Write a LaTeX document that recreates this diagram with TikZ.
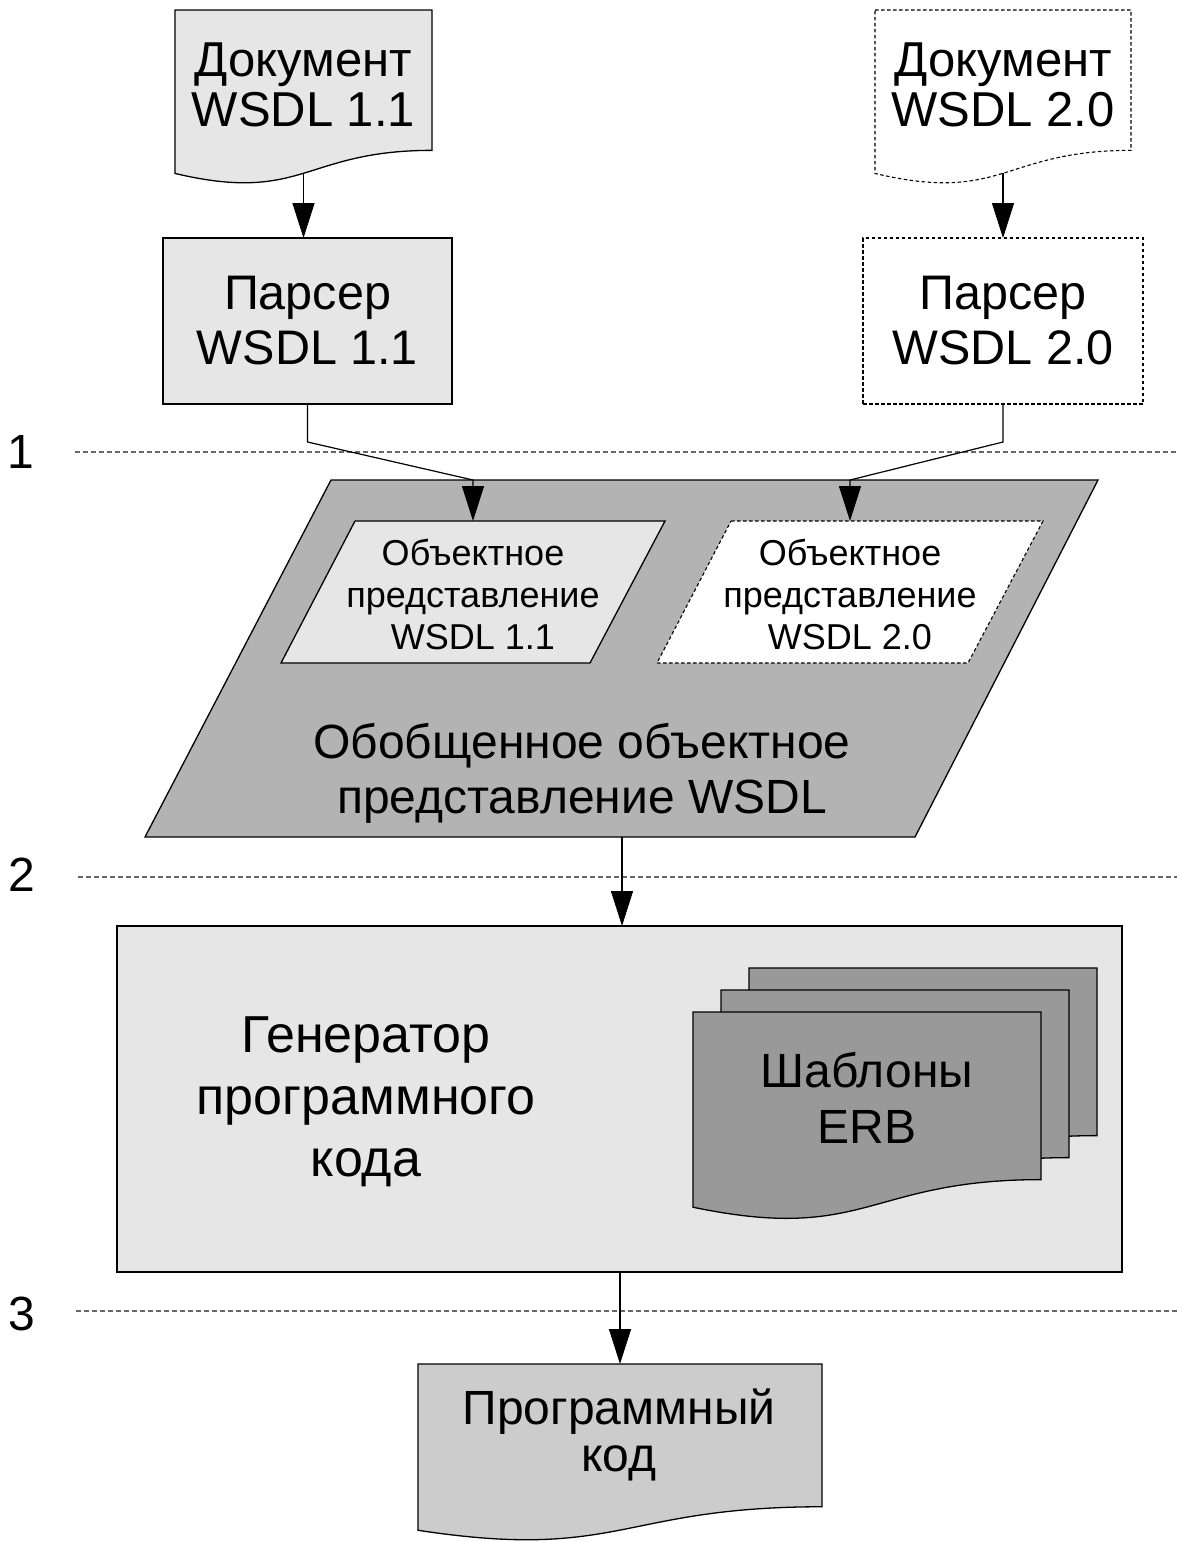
\documentclass[tikz,border=0pt]{standalone}
\usepackage{fontspec}
\setmainfont{Liberation Sans}
\usetikzlibrary{arrows.meta}

\definecolor{lightfill}{HTML}{E6E6E6}
\definecolor{midfill}{HTML}{B3B3B3}
\definecolor{tplfill}{HTML}{999999}
\definecolor{codefill}{HTML}{CCCCCC}
\definecolor{sepgray}{HTML}{666666}

% flowchart "document" outline: style, name, left, top, width, height
\newcommand{\flowdoc}[6]{%
  \path[#1] (#3,#4) -- ({#3+#5},#4) -- ({#3+#5},{#4+0.802*#6})
    .. controls ({#3+#5/2},{#4+0.802*#6}) and ({#3+#5/2},{#4+1.1075*#6})
    .. (#3,{#4+0.934*#6}) -- cycle;
  \coordinate (#2-bot) at ({#3+#5/2},{#4+0.933*#6});
  \coordinate (#2-top) at ({#3+#5/2},#4);
}

\tikzset{
  solidshape/.style={draw=black, line width=1.3pt},
  dashshape/.style={draw=black, line width=1.1pt, dash pattern=on 3.5pt off 2.5pt},
  flow/.style={draw=black, line width=1.2pt, -{Triangle[length=35pt,width=22pt]}},
  separator/.style={draw=sepgray, line width=1.6pt, dash pattern=on 4.5pt off 3.5pt},
  boxnode/.style={inner sep=0pt, outer sep=0pt, align=center},
  stagenum/.style={inner sep=0pt, font=\fontsize{48}{48}\selectfont},
}

\begin{document}
\begin{tikzpicture}[x=1pt, y=-1pt]
\useasboundingbox[fill=white] (0,0) rectangle (1177,1542);

% stage separators
\draw[separator] (75,452) coordinate (s1a) -- (1177,452) coordinate (s1b);
\draw[separator] (78,877) coordinate (s2a) -- (1177,877) coordinate (s2b);
\draw[separator] (76,1311) coordinate (s3a) -- (1177,1311) coordinate (s3b);
\node[stagenum] (n1) at (21,452) {1};
\node[stagenum] (n2) at (22,875) {2};
\node[stagenum] (n3) at (22,1314) {3};

% source documents
\flowdoc{solidshape, fill=lightfill}{d11}{175}{10}{257}{175}
\node[boxnode, font=\fontsize{49}{50}\selectfont] (d11t) at (303.5,85) {Документ\\WSDL 1.1};
\flowdoc{dashshape, fill=white}{d20}{875}{10}{256}{175}
\node[boxnode, font=\fontsize{49}{50}\selectfont] (d20t) at (1003,85) {Документ\\WSDL 2.0};

% parsers
\node[solidshape, fill=lightfill, boxnode, minimum width=289pt, minimum height=166pt,
      font=\fontsize{48.5}{55}\selectfont] (p11) at (307.5,321) {Парсер\\WSDL 1.1};
\node[dashshape, fill=white, boxnode, minimum width=280pt, minimum height=166pt,
      font=\fontsize{48.5}{55}\selectfont] (p20) at (1003,321) {Парсер\\WSDL 2.0};

% generic object model
\path[solidshape, fill=midfill] (331,480) coordinate (bigTL) -- (1098,480) -- (915,837) -- (145,837) -- cycle;
\path[solidshape, fill=lightfill] (355,521) -- (665,521) -- (590,663) -- (281,663) -- cycle;
\path[dashshape, fill=white] (731,521) -- (1043,521) -- (968,663) -- (657,663) -- cycle;
\coordinate (o11in) at (473,521);
\coordinate (o20in) at (850,521);
\coordinate (bigout) at (622,837);
\node[boxnode, font=\fontsize{36}{42}\selectfont] (o11t) at (473,594) {Объектное\\представление\\WSDL 1.1};
\node[boxnode, font=\fontsize{36}{42}\selectfont] (o20t) at (850,594) {Объектное\\представление\\WSDL 2.0};
\node[boxnode, font=\fontsize{48}{55}\selectfont] (bigt) at (582,773) {Обобщенное объектное\\представление WSDL};

% code generator with template stack
\node[solidshape, fill=lightfill, boxnode, minimum width=1005pt, minimum height=346pt] (gen) at (619.5,1099) {};
\node[boxnode, font=\fontsize{52}{62}\selectfont] (gent) at (366,1102) {Генератор\\программного\\кода};
\flowdoc{solidshape, fill=tplfill}{tpl3}{749}{968}{348}{209}
\flowdoc{solidshape, fill=tplfill}{tpl2}{721}{990}{348}{209}
\flowdoc{solidshape, fill=tplfill}{tpl1}{693}{1012}{348}{209}
\node[boxnode, font=\fontsize{48}{56}\selectfont] (tplt) at (867,1098) {Шаблоны\\ERB};

% generated code
\flowdoc{solidshape, fill=codefill}{code}{418}{1364}{404}{178}
\node[boxnode, font=\fontsize{48}{47}\selectfont] (codet) at (619,1435) {Программный\\код};

% connectors
\draw[flow] (d11-bot) -- (d11-bot |- p11.north);
\draw[flow] (d20-bot) -- (d20-bot |- p20.north);
\draw[flow] (p11.south) -- ++(0,38) -- (o11in |- bigTL) -- (o11in);
\draw[flow] (p20.south) -- ++(0,38) -- (o20in |- bigTL) -- (o20in);
\draw[flow] (bigout) -- (bigout |- gen.north);
\draw[flow] (code-top |- gen.south) -- (code-top);
\end{tikzpicture}
\end{document}
